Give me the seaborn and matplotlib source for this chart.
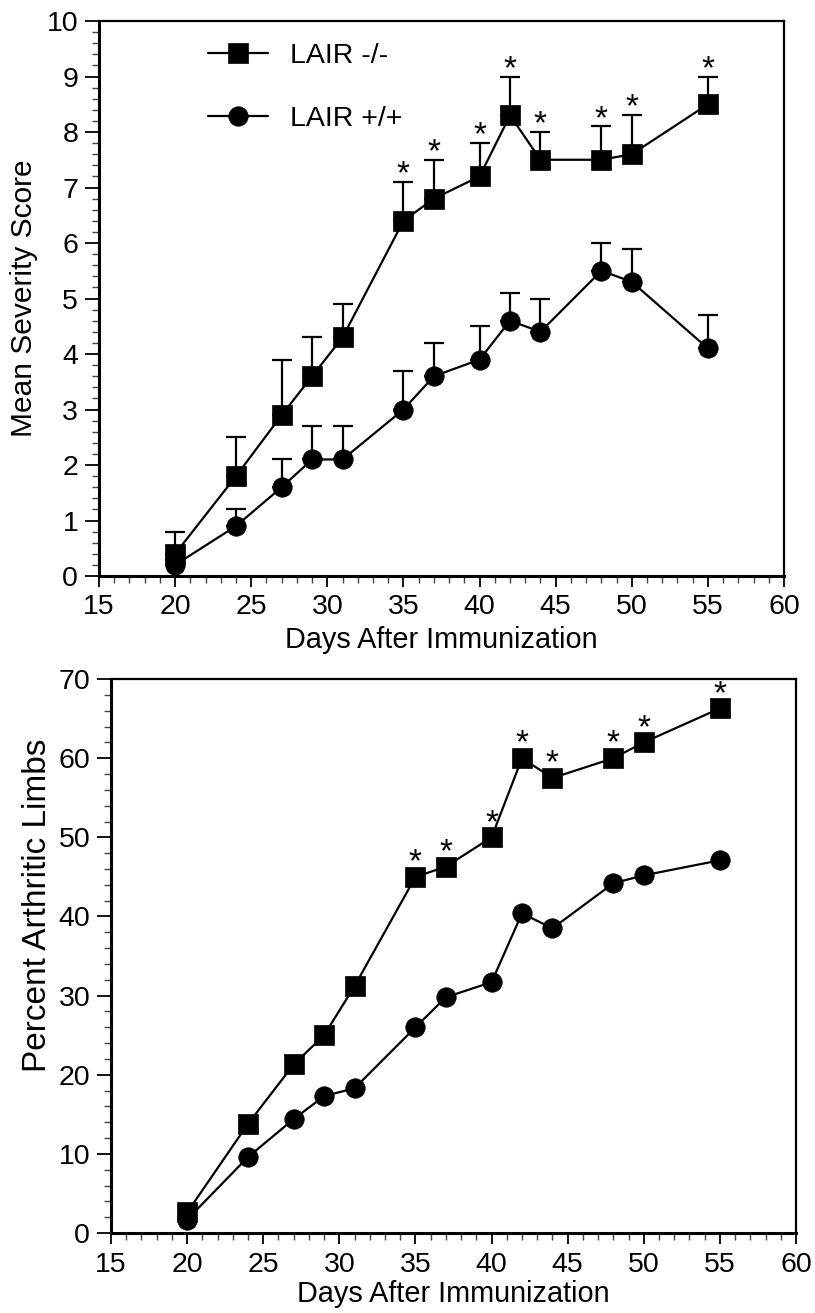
import numpy as np
import pandas as pd
import seaborn as sns
import matplotlib.pyplot as plt
from matplotlib.ticker import MultipleLocator

# data
days = [20, 24, 27, 29, 31, 35, 37, 40, 42, 44, 48, 50, 55]
groups = ['LAIR -/-', 'LAIR +/+']

ko_score = [0.4, 1.8, 2.9, 3.6, 4.3, 6.4, 6.8, 7.2, 8.3, 7.5, 7.5, 7.6, 8.5]
ko_score_err = [0.4, 0.7, 1.0, 0.7, 0.6, 0.7, 0.7, 0.6, 0.7, 0.5, 0.6, 0.7, 0.5]
wt_score = [0.2, 0.9, 1.6, 2.1, 2.1, 3.0, 3.6, 3.9, 4.6, 4.4, 5.5, 5.3, 4.1]
wt_score_err = [0.1, 0.3, 0.5, 0.6, 0.6, 0.7, 0.6, 0.6, 0.5, 0.6, 0.5, 0.6, 0.6]

ko_pct = [2.6, 13.8, 21.3, 25.0, 31.2, 45.0, 46.3, 50.0, 60.0, 57.5, 60.0, 62.0, 66.3]
wt_pct = [1.7, 9.6, 14.4, 17.3, 18.3, 26.0, 29.8, 31.7, 40.4, 38.5, 44.2, 45.2, 47.1]

signif_days = [35, 37, 40, 42, 44, 48, 50, 55]

sns.set_style('ticks')
plt.rcParams['font.family'] = ['Liberation Sans', 'DejaVu Sans']
plt.rcParams['text.color'] = 'black'
plt.rcParams['axes.labelcolor'] = 'black'

score_df = pd.DataFrame({
    'day': days * 2,
    'value': ko_score + wt_score,
    'err': ko_score_err + wt_score_err,
    'group': [groups[0]] * len(days) + [groups[1]] * len(days),
})
pct_df = pd.DataFrame({
    'day': days * 2,
    'value': ko_pct + wt_pct,
    'group': [groups[0]] * len(days) + [groups[1]] * len(days),
})

fig = plt.figure(figsize=(8.15, 13.13), dpi=100)
ax1 = fig.add_axes([0.1215, 0.5613, 0.8405, 0.4227])
ax2 = fig.add_axes([0.1362, 0.0609, 0.8405, 0.4219])

markers = {groups[0]: 's', groups[1]: 'o'}

def style_axis(ax, ymax, ymajor, yminor, xpad):
    ax.set_xlim(15, 60)
    ax.set_ylim(0, ymax)
    ax.xaxis.set_major_locator(MultipleLocator(5))
    ax.xaxis.set_minor_locator(MultipleLocator(1))
    ax.yaxis.set_major_locator(MultipleLocator(ymajor))
    ax.yaxis.set_minor_locator(MultipleLocator(yminor))
    ax.tick_params(axis='y', which='major', length=10, width=1.3, direction='out',
                   labelsize=20.5, pad=5, color='black', labelcolor='black')
    ax.tick_params(axis='y', which='minor', length=5, width=1.0, direction='out', color='#444444')
    ax.tick_params(axis='x', which='major', length=8, width=1.3, direction='out',
                   labelsize=20.5, pad=xpad, color='black', labelcolor='black')
    ax.tick_params(axis='x', which='minor', length=5, width=1.0, direction='out', color='#444444')
    for side in ['left', 'bottom']:
        ax.spines[side].set_linewidth(2.2)
        ax.spines[side].set_color('black')
    for side in ['top', 'right']:
        ax.spines[side].set_visible(True)
        ax.spines[side].set_linewidth(1.6)
        ax.spines[side].set_color('black')

# top panel: mean severity score
for g in groups:
    sub = score_df[score_df['group'] == g]
    ax1.errorbar(sub['day'], sub['value'], yerr=[np.zeros(len(sub)), sub['err']],
                 fmt='none', ecolor='black', elinewidth=1.6, capsize=7, capthick=1.6, zorder=1)
sns.lineplot(data=score_df, x='day', y='value', style='group', style_order=groups,
             markers=markers, dashes=False, color='black', linewidth=1.6,
             markersize=14, markeredgecolor='black', markeredgewidth=0.5, ax=ax1, zorder=2)
ko_sub = score_df[score_df['group'] == groups[0]].set_index('day')
for d in signif_days:
    top = ko_sub.loc[d, 'value'] + ko_sub.loc[d, 'err']
    ax1.annotate('*', (d, top), xytext=(0, -1), textcoords='offset points',
                 ha='center', va='baseline', fontsize=24)

handles, labels = ax1.get_legend_handles_labels()
ax1.legend(handles, labels, loc='upper left', bbox_to_anchor=(0.138, 0.986), frameon=False,
           fontsize=20.5, handlelength=2.1, handletextpad=0.8, labelspacing=1.3, borderpad=0)
style_axis(ax1, 10, 1, 0.2, 5)
ax1.set_xlabel('Days After Immunization', fontsize=20.8, labelpad=4)
ax1.set_ylabel('Mean Severity Score', fontsize=21.5, labelpad=6)

# bottom panel: percent arthritic limbs
sns.lineplot(data=pct_df, x='day', y='value', style='group', style_order=groups,
             markers=markers, dashes=False, color='black', linewidth=1.6,
             markersize=14, markeredgecolor='black', markeredgewidth=0.5, ax=ax2, legend=False)
ko_pct_sub = pct_df[pct_df['group'] == groups[0]].set_index('day')
for d in signif_days:
    ax2.annotate('*', (d, ko_pct_sub.loc[d, 'value']), xytext=(0, 4), textcoords='offset points',
                 ha='center', va='baseline', fontsize=24)
style_axis(ax2, 70, 10, 2, 6)
ax2.set_xlabel('Days After Immunization', fontsize=20.8, labelpad=1)
ax2.set_ylabel('Percent Arthritic Limbs', fontsize=24)
ax2.yaxis.set_label_coords(-0.085, 0.592)

fig.savefig('out.png', dpi=100)
